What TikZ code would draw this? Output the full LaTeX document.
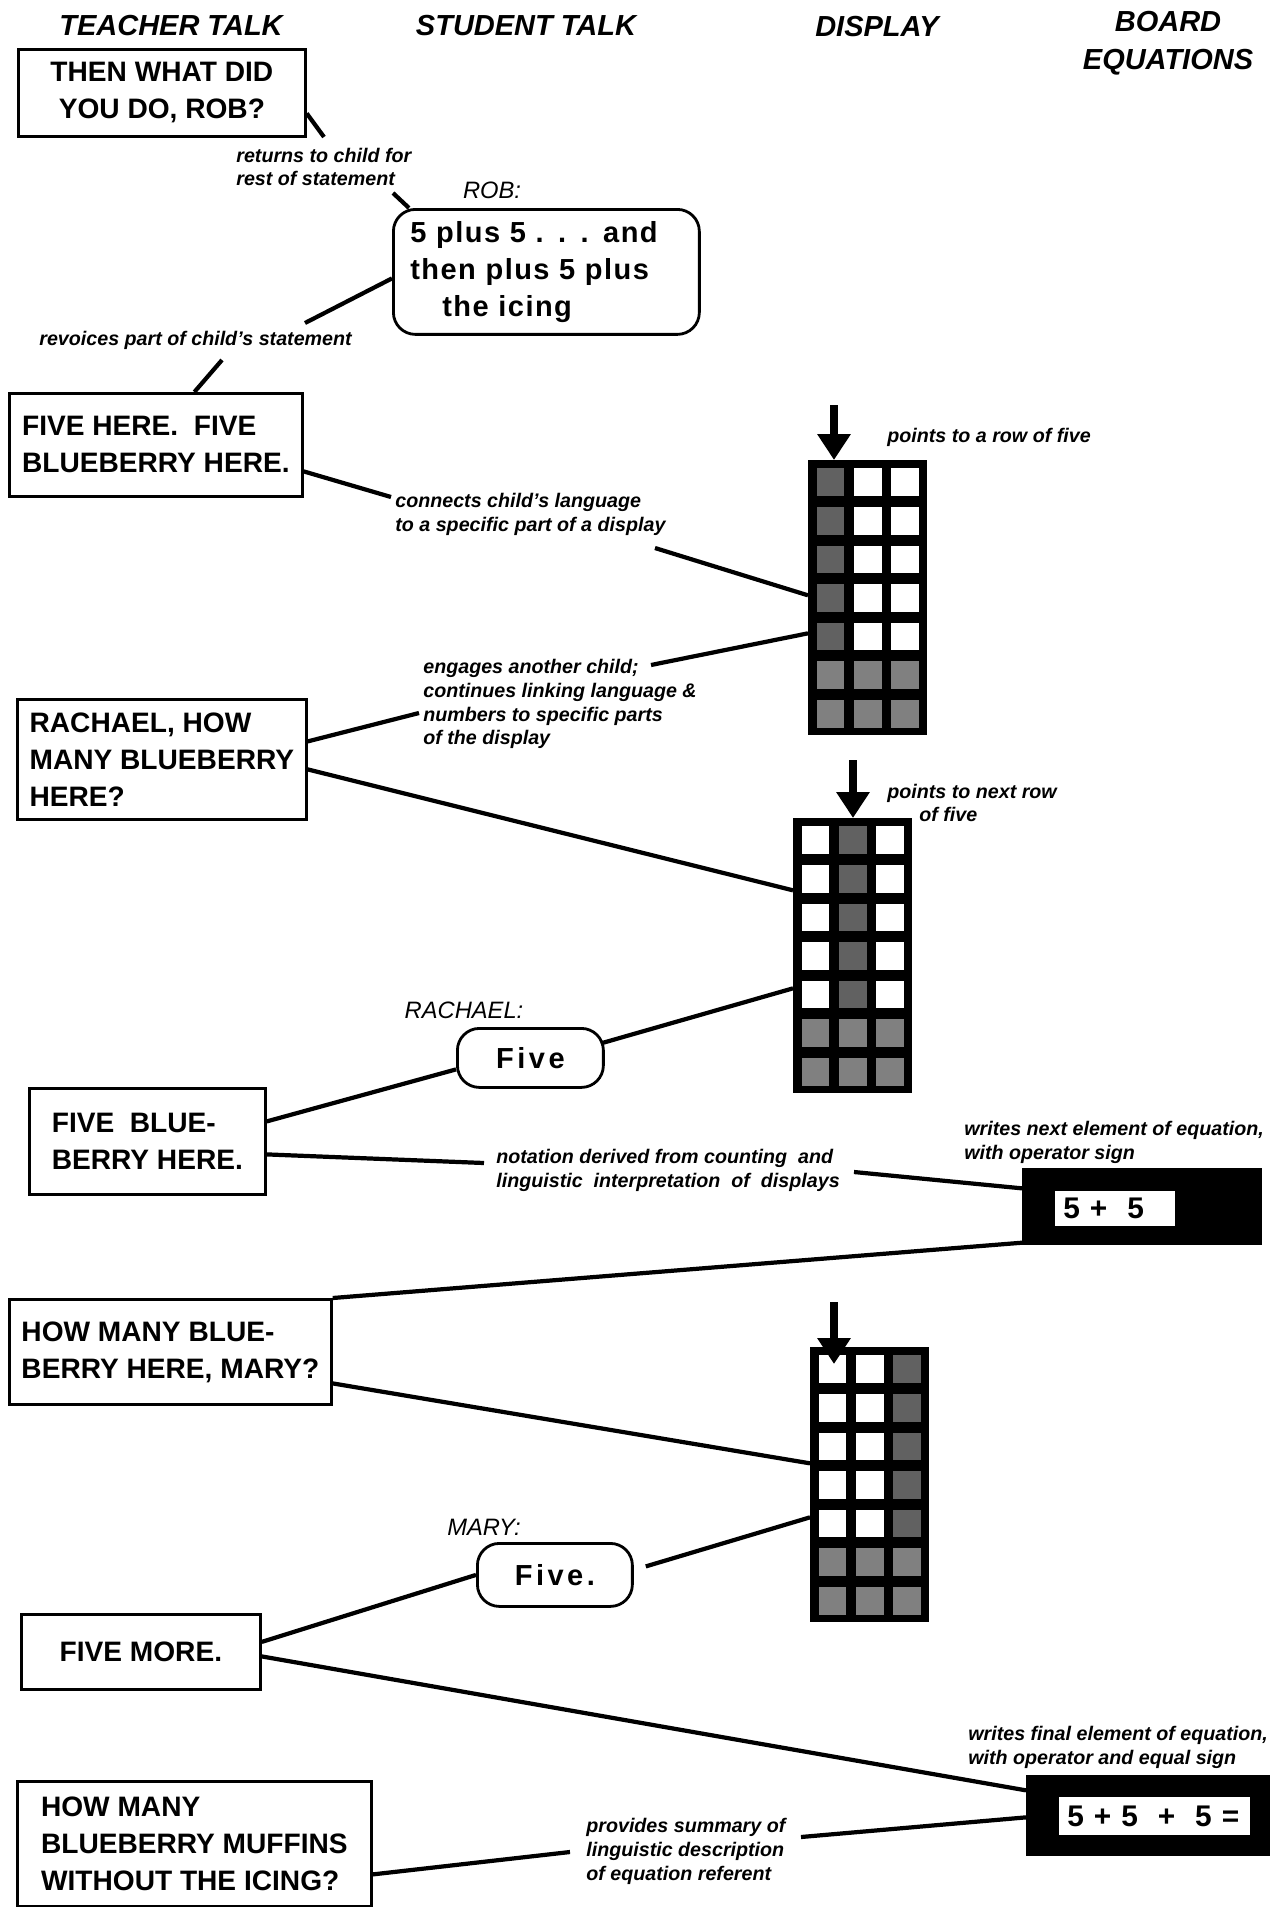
\documentclass[tikz,border=0pt]{standalone}
\usepackage{fontspec}
\setmainfont{Liberation Sans}
\usetikzlibrary{arrows.meta}
\colorlet{topshade}{black!62}
\colorlet{lowshade}{black!50}
\tikzset{
  tbox/.style={draw,line width=1.6pt,inner sep=0pt,anchor=north west,font=\fontsize{16}{21}\selectfont\bfseries},
  bubble/.style={draw,line width=1.6pt,rounded corners=.44cm,inner sep=0pt,anchor=north west,font=\fontsize{16.5}{21}\selectfont\bfseries\addfontfeature{LetterSpace=#1}},
  bubble/.default=5,
  note/.style={anchor=west,inner sep=0pt,align=left,font=\fontsize{11.2}{13.6}\selectfont\bfseries\itshape},
  who/.style={inner sep=0pt,font=\fontsize{13.5}{16}\selectfont\itshape},
  colhead/.style={inner sep=0pt,align=center,font=\fontsize{16.5}{21.5}\selectfont\bfseries\itshape},
  link/.style={line width=2.4pt},
  rack/.style={fill=black,inner sep=0pt,anchor=north west,minimum width=2.38cm,minimum height=5.5cm},
  board/.style={fill=black,inner sep=0pt,anchor=north west},
  slate/.style={fill=white,inner sep=0pt,anchor=north west,align=left,font=\fontsize{17}{20}\selectfont\bfseries},
  pointer/.style={line width=5pt,-{Triangle[width=.64cm,length=.52cm]}}
}
\begin{document}
\begin{tikzpicture}[x=0.02cm,y=-0.02cm]
\useasboundingbox (0,0) rectangle (1276,1907);
\node[colhead] (hteach) at (171,26) {TEACHER TALK};
\node[colhead] (hstud) at (526,26) {STUDENT TALK};
\node[colhead] (hdisp) at (877,27) {DISPLAY};
\node[colhead] (hboard) at (1168,43) {BOARD\\EQUATIONS};

\node[tbox,minimum width=5.74cm,minimum height=1.74cm,align=center] (t1) at (17,48) {THEN WHAT DID\\YOU DO, ROB?};
\node[tbox,minimum width=5.86cm,minimum height=2.06cm,align=left] (t2) at (8,392) {FIVE HERE.\ \ FIVE\\BLUEBERRY HERE.};
\node[tbox,minimum width=5.78cm,minimum height=2.4cm,align=left] (t3) at (16,698) {RACHAEL, HOW\\MANY BLUEBERRY\\HERE?};
\node[tbox,minimum width=4.72cm,minimum height=2.12cm,align=left] (t4) at (28,1087) {FIVE\ \ BLUE-\\BERRY HERE.};
\node[tbox,minimum width=6.44cm,minimum height=2.1cm,align=left] (t5) at (8,1298) {HOW MANY BLUE-\\BERRY HERE, MARY?};
\node[tbox,minimum width=4.78cm,minimum height=1.5cm] (t6) at (20,1613) {FIVE MORE.};
\node[tbox,minimum width=7.08cm,minimum height=2.5cm,align=left] (t7) at (16,1780) {HOW MANY\\BLUEBERRY MUFFINS\\WITHOUT THE ICING?};

\node[who] (lrob) at (492,190) {ROB:};
\node[who] (lrach) at (464,1010) {RACHAEL:};
\node[who] (lmary) at (484,1527) {MARY:};
\node[bubble,text width=5.44cm,inner xsep=.34cm,minimum height=2.5cm,align=left] (rob) at (392,208) {5 plus 5 . . . and\\then plus 5 plus\\\hspace*{.64cm}the icing};
\node[bubble=12,minimum width=2.92cm,minimum height=1.18cm] (five1) at (456,1027) {Five};
\node[bubble=12,minimum width=3.1cm,minimum height=1.26cm] (five2) at (476,1542) {Five.};

\node[note] (a1) at (236,167) {returns to child for\\rest of statement};
\node[note] (a2) at (39,340) {revoices part of child's statement};
\node[note] (a3) at (395,514) {connects child's language\\to a specific part of a display};
\node[note] (a4) at (887,437) {points to a row of five};
\node[note] (a5) at (423,704) {engages another child;\\continues linking language \&\\numbers to specific parts\\of the display};
\node[note] (a6) at (887,803) {points to next row\\\hspace*{.64cm}of five};
\node[note] (a7) at (496,1170) {notation derived from counting \ and\\linguistic \ interpretation \ of \ displays};
\node[note] (a8) at (964,1142) {writes next element of equation,\\with operator sign};
\node[note] (a9) at (968,1747) {writes final element of equation,\\with operator and equal sign};
\node[note] (a10) at (586,1851) {provides summary of\\linguistic description\\of equation referent};

\node[rack] (d1) at (808,460) {};
\node[rack] (d2) at (793,818) {};
\node[rack] (d3) at (810,1347) {};
\foreach \disp/\sc in {d1/0,d2/1,d3/2}
  \foreach \col in {0,1,2}
    \foreach \row in {0,...,6}{
      \ifnum\row>4 \def\cellcol{lowshade}\else\ifnum\col=\sc\relax\def\cellcol{topshade}\else\def\cellcol{white}\fi\fi
      \fill[fill=\cellcol] ([shift={(9+37.2*\col,8.3+38.6*\row)}]\disp.north west) rectangle ++(27.3,27.7);
    }
\coordinate (p1) at (834,405);
\coordinate (p2) at (853,760);
\coordinate (p3) at (834,1302);
\draw[pointer] (p1) -- (p1 |- d1.north);
\draw[pointer] (p2) -- (p2 |- d2.north);
\draw[pointer] (p3) -- ++(0,62);

\node[board,minimum width=4.8cm,minimum height=1.54cm] (b1) at (1022,1168) {};
\node[slate,text width=2.08cm,inner xsep=.16cm,minimum height=.7cm] (e1) at ([shift={(33,23)}]b1.north west) {5 + \ 5};
\node[board,minimum width=4.88cm,minimum height=1.62cm] (b2) at (1026,1775) {};
\node[slate,text width=3.5cm,inner xsep=.16cm,minimum height=.76cm] (e2) at ([shift={(33,22)}]b2.north west) {\mbox{5 + 5 \ + \ 5 =}};

\draw[link] ([shift={(0,20.5)}]t1.east) -- ([shift={(88,-30)}]a1.west);
\draw[link] ([shift={(157,26)}]a1.west) -- ([shift={(17,0)}]rob.north west);
\draw[link] ([shift={(0,6.5)}]rob.west) -- ([shift={(266,-17)}]a2.west);
\draw[link] ([shift={(183,20)}]a2.west) -- ([shift={(38.5,0)}]t2.north);
\draw[link] ([shift={(0,26.5)}]t2.east) -- ([shift={(-4,-17)}]a3.west);
\draw[link] ([shift={(260,34)}]a3.west) -- ([shift={(0,-2.5)}]d1.west);
\draw[link] ([shift={(0,35.5)}]d1.west) -- ([shift={(228,-39)}]a5.west);
\draw[link] ([shift={(0,-18)}]t3.east) -- ([shift={(-4,9)}]a5.west);
\draw[link] ([shift={(0,10)}]t3.east) -- ([shift={(0,-65.5)}]d2.west);
\draw[link] ([shift={(0,32.5)}]d2.west) -- ([shift={(-4,-14.5)}]five1.east);
\draw[link] ([shift={(0,11.5)}]five1.west) -- ([shift={(0,-20)}]t4.east);
\draw[link] ([shift={(0,13)}]t4.east) -- ([shift={(-12,-7)}]a7.west);
\draw[link] ([shift={(358,2)}]a7.west) -- ([shift={(0,-18.5)}]b1.west);
\draw[link] ([shift={(0,-3)}]b1.south west) -- (t5.north east);
\draw[link] ([shift={(0,31.5)}]t5.east) -- ([shift={(0,-21.5)}]d3.west);
\draw[link] ([shift={(0,32.5)}]d3.west) -- ([shift={(12,-8.5)}]five2.east);
\draw[link] (five2.west) -- ([shift={(0,-10)}]t6.east);
\draw[link] ([shift={(0,4.5)}]t6.east) -- ([shift={(0,-25.5)}]b2.west);
\draw[link] ([shift={(0,30.5)}]t7.east) -- ([shift={(-16,1)}]a10.west);
\draw[link] ([shift={(215,-14)}]a10.west) -- ([shift={(0,1.5)}]b2.west);
\end{tikzpicture}
\end{document}
